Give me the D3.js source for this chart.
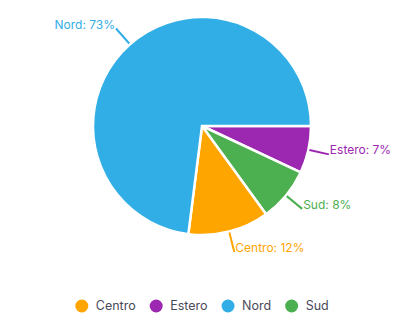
<!DOCTYPE html>
<html>
<head>
<meta charset="utf-8">
<script src="https://cdn.jsdelivr.net/npm/d3@7"></script>
<style>
  body { margin: 0; background: #fff; }
  text { font-family: Inter, "Noto Sans", sans-serif; }
</style>
</head>
<body>
<div id="app"></div>
<script>
const width = 404,
    height = 320,
    radius = 109;

// slices in drawing order (clockwise from 3 o'clock)
const sliceNames = ["Estero", "Sud", "Centro", "Nord"];
const sliceValues = [7, 8, 12, 73];

// legend order
const legendNames = ["Centro", "Estero", "Nord", "Sud"];

const colors = {
    Centro: "#ffa500",
    Estero: "#9c27b0",
    Nord: "#32aee6",
    Sud: "#4caf50"
};

const data = sliceNames.map((name, i) => ({name, value: sliceValues[i]}));
const total = d3.sum(sliceValues);

const svg = d3.select("#app")
    .append("svg")
    .attr("width", width)
    .attr("height", height);

const g = svg.append("g")
    .attr("transform", `translate(202, 126)`);

const pie = d3.pie()
    .sort(null)
    .value(d => d.value)
    .startAngle(Math.PI / 2)
    .endAngle(Math.PI / 2 + 2 * Math.PI);

const arc = d3.arc().innerRadius(0).outerRadius(radius);

const arcs = pie(data);

g.selectAll("path.slice")
    .data(arcs).enter()
    .append("path")
    .attr("class", "slice")
    .attr("d", arc)
    .attr("fill", d => colors[d.data.name])
    .attr("stroke", "#fff")
    .attr("stroke-width", 2.5)
    .attr("stroke-linejoin", "miter");

//leader lines + labels
const inner = d3.arc().innerRadius(radius + 1).outerRadius(radius + 1);
const outer = d3.arc().innerRadius(radius + 21).outerRadius(radius + 21);

g.selectAll("line.leader")
    .data(arcs).enter()
    .append("line")
    .attr("class", "leader")
    .attr("x1", d => inner.centroid(d)[0])
    .attr("y1", d => inner.centroid(d)[1])
    .attr("x2", d => outer.centroid(d)[0])
    .attr("y2", d => outer.centroid(d)[1])
    .attr("stroke", d => colors[d.data.name])
    .attr("stroke-width", 2);

g.selectAll("text.label")
    .data(arcs).enter()
    .append("text")
    .attr("class", "label")
    .attr("x", d => {
        const p = outer.centroid(d);
        return p[0] < 0 ? p[0] - 1 : p[0] + 1;
    })
    .attr("y", d => outer.centroid(d)[1])
    .attr("text-anchor", d => outer.centroid(d)[0] < 0 ? "end" : "start")
    .attr("font-size", 12)
    .attr("fill", d => colors[d.data.name])
    .text(d => `${d.data.name}: ${Math.round(d.data.value / total * 100)}%`);

//legend, laid out by text width and centred
const legend = svg.append("g");

const items = legend.selectAll("g.item")
    .data(legendNames).enter()
    .append("g")
    .attr("class", "item");

items.append("circle")
    .attr("r", 6.5)
    .attr("fill", d => colors[d]);

items.append("text")
    .attr("x", 14)
    .attr("dy", "0.35em")
    .attr("font-size", 12.5)
    .attr("fill", "#4a4a5a")
    .text(d => d);

const gap = 14;
let cursor = 0;
items.each(function () {
    const w = d3.select(this).select("text").node().getComputedTextLength();
    d3.select(this).attr("transform", `translate(${cursor + 6.5}, 0)`);
    cursor += 6.5 + 14 + w + gap;
});
const legendWidth = cursor - gap;
legend.attr("transform", `translate(${202 - legendWidth / 2}, 306)`);
</script>
</body>
</html>
